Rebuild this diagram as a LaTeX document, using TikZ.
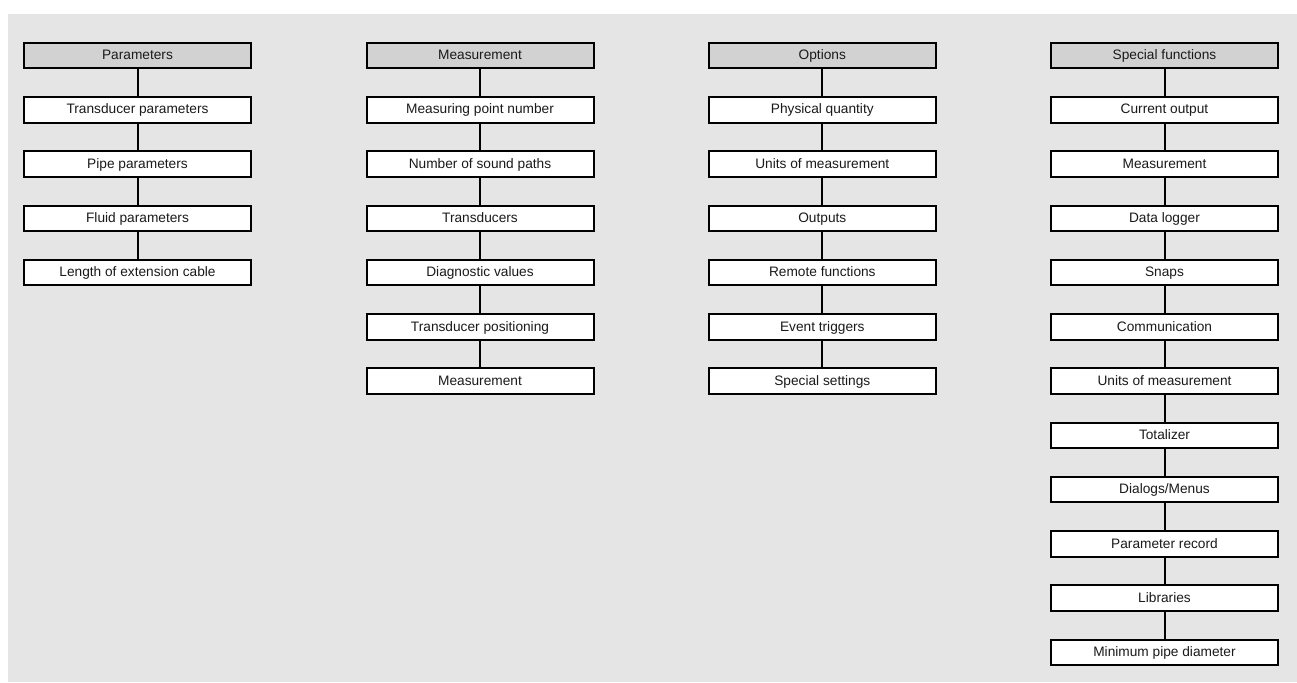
\documentclass[tikz,border=0pt]{standalone}
\usepackage{fontspec}
\setmainfont{Liberation Sans}
\definecolor{bg}{HTML}{E5E5E5}
\definecolor{hd}{HTML}{D2D2D2}
\definecolor{tx}{HTML}{1A1A1A}
\begin{document}
\begin{tikzpicture}[x=1pt,y=-1pt,
  itembox/.style={draw=black,line width=2pt,fill=white,minimum width=227pt,minimum height=25.5pt,inner sep=0pt,text height=11.3pt,text depth=2.9pt,font=\fontsize{13.7pt}{16pt}\selectfont,text=tx},
  headbox/.style={itembox,fill=hd},
  link/.style={line width=2pt,draw=black}]
\useasboundingbox (0,0) rectangle (1297,682);
\fill[white] (0,0) rectangle (1297,682);
\fill[bg] (8,14) rectangle (1297,682);
\def\rowy#1{55.5+54.27*#1}
% column 1
\node[headbox] (a0) at (137.5,{\rowy{0}}) {Parameters};
\node[itembox] (a1) at (137.5,{\rowy{1}}) {Transducer parameters};
\node[itembox] (a2) at (137.5,{\rowy{2}}) {Pipe parameters};
\node[itembox] (a3) at (137.5,{\rowy{3}}) {Fluid parameters};
\node[itembox] (a4) at (137.5,{\rowy{4}}) {Length of extension cable};
\foreach \i [evaluate=\i as \j using int(\i+1)] in {0,...,3} \draw[link] (a\i) -- (a\j);
% column 2
\node[headbox] (b0) at (480,{\rowy{0}}) {Measurement};
\node[itembox] (b1) at (480,{\rowy{1}}) {Measuring point number};
\node[itembox] (b2) at (480,{\rowy{2}}) {Number of sound paths};
\node[itembox] (b3) at (480,{\rowy{3}}) {Transducers};
\node[itembox] (b4) at (480,{\rowy{4}}) {Diagnostic values};
\node[itembox] (b5) at (480,{\rowy{5}}) {Transducer positioning};
\node[itembox] (b6) at (480,{\rowy{6}}) {Measurement};
\foreach \i [evaluate=\i as \j using int(\i+1)] in {0,...,5} \draw[link] (b\i) -- (b\j);
% column 3
\node[headbox] (c0) at (822.3,{\rowy{0}}) {Options};
\node[itembox] (c1) at (822.3,{\rowy{1}}) {Physical quantity};
\node[itembox] (c2) at (822.3,{\rowy{2}}) {Units of measurement};
\node[itembox] (c3) at (822.3,{\rowy{3}}) {Outputs};
\node[itembox] (c4) at (822.3,{\rowy{4}}) {Remote functions};
\node[itembox] (c5) at (822.3,{\rowy{5}}) {Event triggers};
\node[itembox] (c6) at (822.3,{\rowy{6}}) {Special settings};
\foreach \i [evaluate=\i as \j using int(\i+1)] in {0,...,5} \draw[link] (c\i) -- (c\j);
% column 4
\node[headbox] (d0) at (1164.5,{\rowy{0}}) {Special functions};
\node[itembox] (d1) at (1164.5,{\rowy{1}}) {Current output};
\node[itembox] (d2) at (1164.5,{\rowy{2}}) {Measurement};
\node[itembox] (d3) at (1164.5,{\rowy{3}}) {Data logger};
\node[itembox] (d4) at (1164.5,{\rowy{4}}) {Snaps};
\node[itembox] (d5) at (1164.5,{\rowy{5}}) {Communication};
\node[itembox] (d6) at (1164.5,{\rowy{6}}) {Units of measurement};
\node[itembox] (d7) at (1164.5,{\rowy{7}}) {Totalizer};
\node[itembox] (d8) at (1164.5,{\rowy{8}}) {Dialogs/Menus};
\node[itembox] (d9) at (1164.5,{\rowy{9}}) {Parameter record};
\node[itembox] (d10) at (1164.5,{\rowy{10}}) {Libraries};
\node[itembox] (d11) at (1164.5,{\rowy{11}}) {Minimum pipe diameter};
\foreach \i [evaluate=\i as \j using int(\i+1)] in {0,...,10} \draw[link] (d\i) -- (d\j);
\end{tikzpicture}
\end{document}
